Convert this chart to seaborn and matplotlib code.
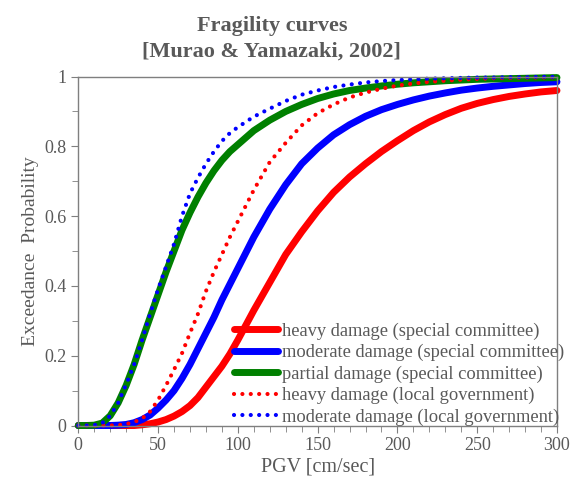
import numpy as np
import pandas as pd
import matplotlib
matplotlib.use("Agg")
import matplotlib.pyplot as plt
import seaborn as sns
from matplotlib.ticker import MultipleLocator, FuncFormatter

# PGV grid [cm/sec]
pgv = [0, 5, 10, 15, 20, 25, 30, 35, 40, 45, 50, 55, 60, 65, 70, 75, 80, 85, 90, 95, 100,
       110, 120, 130, 140, 150, 160, 170, 180, 190, 200,
       210, 220, 230, 240, 250, 260, 270, 280, 290, 300]

# values
heavy_sc = [0, 0, 0, 0, 0, 0, 0, 0, 0.002, 0.005, 0.01, 0.017, 0.027, 0.04, 0.057, 0.08, 0.11, 0.14, 0.17, 0.205, 0.245,
            0.33, 0.41, 0.49, 0.555, 0.615, 0.668, 0.712, 0.75, 0.785, 0.816,
            0.845, 0.87, 0.891, 0.909, 0.923, 0.934, 0.943, 0.95, 0.956, 0.96]
moderate_sc = [0, 0, 0, 0, 0, 0.001, 0.003, 0.008, 0.017, 0.03, 0.05, 0.073, 0.1, 0.135, 0.175, 0.22, 0.265, 0.31, 0.36, 0.405, 0.45,
               0.54, 0.62, 0.69, 0.75, 0.795, 0.833, 0.862, 0.886, 0.905, 0.92,
               0.933, 0.944, 0.953, 0.961, 0.967, 0.972, 0.976, 0.98, 0.983, 0.985]
partial_sc = [0, 0, 0.001, 0.007, 0.028, 0.065, 0.115, 0.175, 0.245, 0.31, 0.375, 0.44, 0.5, 0.56, 0.61, 0.655, 0.695, 0.73, 0.76, 0.785, 0.805,
              0.845, 0.875, 0.9, 0.92, 0.937, 0.95, 0.96, 0.967, 0.973, 0.978,
              0.982, 0.985, 0.988, 0.99, 0.992, 0.993, 0.994, 0.995, 0.996, 0.997]
heavy_lg = [0, 0, 0, 0, 0, 0.001, 0.004, 0.01, 0.02, 0.04, 0.073, 0.115, 0.16, 0.207, 0.265, 0.32, 0.385, 0.44, 0.49, 0.54, 0.585,
            0.675, 0.755, 0.81, 0.86, 0.895, 0.92, 0.94, 0.954, 0.965, 0.974,
            0.98, 0.985, 0.988, 0.991, 0.993, 0.995, 0.996, 0.997, 0.997, 0.998]
moderate_lg = [0, 0, 0.001, 0.007, 0.028, 0.065, 0.118, 0.175, 0.245, 0.32, 0.39, 0.455, 0.52, 0.6, 0.665, 0.71, 0.75, 0.785, 0.815, 0.838, 0.855,
               0.885, 0.908, 0.93, 0.948, 0.96, 0.97, 0.977, 0.983, 0.987, 0.99,
               0.992, 0.994, 0.995, 0.996, 0.997, 0.997, 0.998, 0.998, 0.999, 0.999]

labels = [
    "heavy damage (special committee)",
    "moderate damage (special committee)",
    "partial damage (special committee)",
    "heavy damage (local government)",
    "moderate damage (local government)",
]

df = pd.DataFrame({
    "pgv": pgv,
    labels[0]: heavy_sc,
    labels[1]: moderate_sc,
    labels[2]: partial_sc,
    labels[3]: heavy_lg,
    labels[4]: moderate_lg,
})

sns.set_style("white")
plt.rcParams["font.family"] = ["Liberation Serif", "DejaVu Serif"]
gray = "#595959"

fig = plt.figure(figsize=(5.77, 4.82), dpi=100)
ax = fig.add_axes([0.1357, 0.1172, 0.8296, 0.724])

dotted = (0, (0.01, 2.0))
styles = [
    ("#ff0000", "-", 5),
    ("#0000ff", "-", 5),
    ("#008000", "-", 5),
    ("#ff0000", dotted, 3),
    ("#0000ff", dotted, 3),
]
for name, (col, ls, lw) in zip(labels, styles):
    sns.lineplot(data=df, x="pgv", y=name, ax=ax, color=col, linestyle=ls,
                 linewidth=lw, dash_capstyle="round", solid_capstyle="round",
                 clip_on=False, label=name, estimator=None)

ax.set_xlim(0, 300)
ax.set_ylim(0, 1)
ax.xaxis.set_major_locator(MultipleLocator(50))
ax.xaxis.set_minor_locator(MultipleLocator(10))
ax.yaxis.set_major_locator(MultipleLocator(0.2))
ax.yaxis.set_minor_locator(MultipleLocator(0.1))
ax.yaxis.set_major_formatter(FuncFormatter(lambda v, p: "%g" % round(v, 1)))

for s in ax.spines.values():
    s.set_color("#7f7f7f")
    s.set_linewidth(1)
ax.tick_params(which="both", direction="out", color="#7f7f7f", labelcolor=gray,
               labelsize=13, bottom=True, left=True)
ax.tick_params(which="major", length=5)
ax.tick_params(which="minor", length=4)

ax.set_xlabel("PGV [cm/sec]", fontsize=14.5, color=gray, labelpad=2)
ax.set_ylabel("Exceedance  Probability", fontsize=14, color=gray, labelpad=4)

fig.text(0.471, 0.946, "Fragility curves", ha="center", va="center",
         fontsize=16, fontweight="bold", color=gray)
fig.text(0.471, 0.892, "[Murao & Yamazaki, 2002]", ha="center", va="center",
         fontsize=16, fontweight="bold", color=gray)

leg = ax.legend(loc="lower left", bbox_to_anchor=(0.325, 0.0), frameon=False,
                fontsize=13.3, handlelength=2.4, handletextpad=0.2,
                labelspacing=0.22, borderpad=0, borderaxespad=0)
for t in leg.get_texts():
    t.set_color(gray)

fig.savefig("out.png", dpi=100)
